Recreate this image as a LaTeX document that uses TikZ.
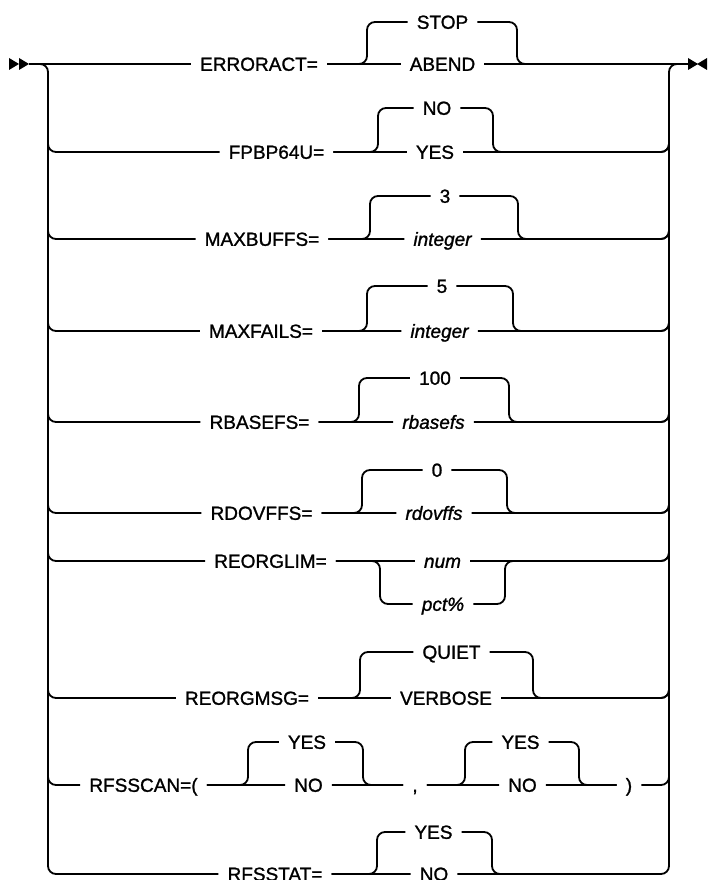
\documentclass[tikz,border=0pt]{standalone}
\usepackage{fontspec}
\setmainfont{Liberation Sans}[FakeBold=1.2]
\newfontfamily\railfont{Liberation Sans}[FakeBold=1.2]
\begin{document}
\begin{tikzpicture}[
  x=1pt, y=-1pt,
  word/.style={inner xsep=9pt, inner ysep=0pt, text height=17pt, text depth=3.4pt,
               font=\railfont\fontsize{19}{22}\selectfont},
  var/.style={word, font=\railfont\fontsize{19}{22}\selectfont\itshape},
  track/.style={line width=1.8pt, rounded corners=8pt}
]
\useasboundingbox (0,0) rectangle (707,880);

\coordinate (go) at (29,64);
\coordinate (fin) at (688,64);
\coordinate (lt) at (48,100);
\coordinate (rt) at (669,100);
\coordinate (lb) at (48,874);
\coordinate (rb) at (669,874);

% start and end marks
\fill (9,58) -- (19,64) -- (9,70) -- cycle;
\fill (19,58) -- (29,64) -- (19,70) -- cycle;
\fill (688,58) -- (698,64) -- (688,70) -- cycle;
\fill (707,58) -- (697,64) -- (707,70) -- cycle;

% ERRORACT
\node[word] (k1) at (259,64) {ERRORACT=};
\node[word] (d1) at (442.5,22) {STOP};
\node[word] (a1) at (442.5,64) {ABEND};
\coordinate (j1l) at (367,64);
\coordinate (j1r) at (517,64);
\draw[track] (go) -- (k1) -- (a1) -- (fin);
\draw[track] (k1) -- (j1l) |- (d1) -| (j1r) -- (fin);

% FPBP64U
\node[word] (k2) at (276.5,152) {FPBP64U=};
\node[word] (d2) at (437,108) {NO};
\node[word] (a2) at (435,152) {YES};
\coordinate (j2l) at (378,152);
\coordinate (j2r) at (493,152);
\draw[track] (lt) |- (k2) -- (a2) -| (rt);
\draw[track] (k2) -- (j2l) |- (d2) -| (j2r) -| (rt);

% MAXBUFFS
\node[word] (k3) at (262,239) {MAXBUFFS=};
\node[word] (d3) at (445,196) {3};
\node[var] (a3) at (442.5,239) {integer};
\coordinate (j3l) at (370,239);
\coordinate (j3r) at (518,239);
\draw[track] (lt) |- (k3) -- (a3) -| (rt);
\draw[track] (k3) -- (j3l) |- (d3) -| (j3r) -| (rt);

% MAXFAILS
\node[word] (k4) at (261,331) {MAXFAILS=};
\node[word] (d4) at (442,286) {5};
\node[var] (a4) at (439.5,331) {integer};
\coordinate (j4l) at (367,331);
\coordinate (j4r) at (513,331);
\draw[track] (lt) |- (k4) -- (a4) -| (rt);
\draw[track] (k4) -- (j4l) |- (d4) -| (j4r) -| (rt);

% RBASEFS
\node[word] (k5) at (259.5,422) {RBASEFS=};
\node[word] (d5) at (435,378) {100};
\node[var] (a5) at (433.5,422) {rbasefs};
\coordinate (j5l) at (359,422);
\coordinate (j5r) at (509,422);
\draw[track] (lt) |- (k5) -- (a5) -| (rt);
\draw[track] (k5) -- (j5l) |- (d5) -| (j5r) -| (rt);

% RDOVFFS
\node[word] (k6) at (261.5,513) {RDOVFFS=};
\node[word] (d6) at (437,470) {0};
\node[var] (a6) at (434,513) {rdovffs};
\coordinate (j6l) at (362,513);
\coordinate (j6r) at (507,513);
\draw[track] (lt) |- (k6) -- (a6) -| (rt);
\draw[track] (k6) -- (j6l) |- (d6) -| (j6r) -| (rt);

% REORGLIM
\node[word] (k7) at (270.5,561) {REORGLIM=};
\node[var] (a7) at (442.5,561) {num};
\node[var] (b7) at (443,604) {pct\%};
\coordinate (j7l) at (380,561);
\coordinate (j7r) at (505,561);
\draw[track] (lt) |- (k7) -- (a7) -| (rt);
\draw[track] (k7) -- (j7l) |- (b7) -| (j7r) -| (rt);

% REORGMSG
\node[word] (k8) at (247,698) {REORGMSG=};
\node[word] (d8) at (451.5,652) {QUIET};
\node[word] (a8) at (446,698) {VERBOSE};
\coordinate (j8l) at (360,698);
\coordinate (j8r) at (533,698);
\draw[track] (lt) |- (k8) -- (a8) -| (rt);
\draw[track] (k8) -- (j8l) |- (d8) -| (j8r) -| (rt);

% RFSSCAN
\node[word] (k9) at (143.5,785) {RFSSCAN=(};
\node[word] (d9) at (307,742) {YES};
\node[word] (a9) at (308.5,785) {NO};
\node[word] (c9) at (415,785) {,};
\node[word] (e9) at (520.5,742) {YES};
\node[word] (f9) at (522.5,785) {NO};
\node[word] (p9) at (629,785) {)};
\coordinate (j9l) at (248,785);
\coordinate (j9r) at (363,785);
\coordinate (g9l) at (465,785);
\coordinate (g9r) at (579,785);
\draw[track] (lt) |- (k9) -- (a9) -- (c9) -- (f9) -- (p9) -| (rt);
\draw[track] (k9) -- (j9l) |- (d9) -| (j9r) -- (c9);
\draw[track] (c9) -- (g9l) |- (e9) -| (g9r) -- (p9);

% RFSSTAT
\node[word] (k10) at (275,874) {RFSSTAT=};
\node[word] (d10) at (433.5,832) {YES};
\node[word] (a10) at (434,874) {NO};
\coordinate (j10l) at (377,874);
\coordinate (j10r) at (492,874);
\coordinate (m10) at (600,874);
\draw[track] (go) -| (lb) -- (k10) -- (a10) -- (rb) |- (fin);
\draw[track] (k10) -- (j10l) |- (d10) -| (j10r) -- (m10);
\end{tikzpicture}
\end{document}
